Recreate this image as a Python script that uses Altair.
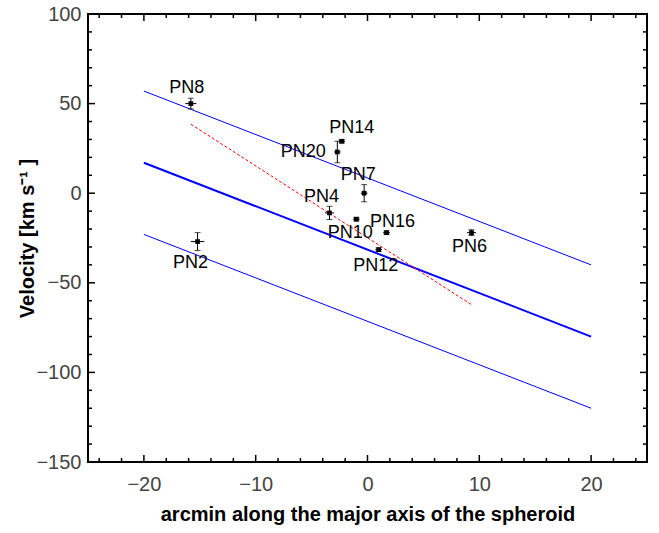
import altair as alt
import pandas as pd

# ---- data ----
names = ["PN8", "PN2", "PN20", "PN14", "PN7", "PN4", "PN10", "PN16", "PN12", "PN6"]
pos_x = [-15.8, -15.2, -2.7, -2.3, -0.3, -3.4, -1.0, 1.7, 1.0, 9.3]
vel = [50, -27, 23, 29, 0, -11, -14.5, -22, -31.5, -22]
vel_err = [3, 5, 6, 1, 4.8, 3.7, 1, 1, 1, 1.6]
pos_err = [0.5, 0.6, 0.3, 0.3, 0.3, 0.4, 0.3, 0.3, 0.3, 0.4]

band_x = [-20, 20]
band_upper = [57, -40]
band_mid = [17, -80]
band_lower = [-23, -120]

fit_x = [-15.8, 9.25]
fit_y = [38.5, -62]

x_major = [-20, -10, 0, 10, 20]
x_minor = [-24, -22, -18, -16, -14, -12, -8, -6, -4, -2, 2, 4, 6, 8, 12, 14, 16, 18, 22, 24]
y_major = [-150, -100, -50, 0, 50, 100]
y_minor = [-140, -130, -120, -110, -90, -80, -70, -60, -40, -30, -20, -10,
           10, 20, 30, 40, 60, 70, 80, 90]

# label offsets in pixels (layout only)
label_offsets = {
    "PN8": (-4, -16), "PN2": (-7, 21), "PN20": (-34, 0), "PN14": (10, -13),
    "PN7": (-6, -18), "PN4": (-8, -16), "PN10": (-6, 14), "PN16": (6, -11),
    "PN12": (-3, 16), "PN6": (-2, 14),
}

W, H = 559, 448
FONT = "Liberation Sans"

pts = pd.DataFrame({"name": names, "x": pos_x, "y": vel, "ye": vel_err, "xe": pos_err})
pts["ylo"] = pts["y"] - pts["ye"]
pts["yhi"] = pts["y"] + pts["ye"]
pts["xlo"] = pts["x"] - pts["xe"]
pts["xhi"] = pts["x"] + pts["xe"]

xscale = alt.Scale(domain=[-25, 25], nice=False, zero=False)
yscale = alt.Scale(domain=[-150, 100], nice=False, zero=False)
XT = "arcmin along the major axis of the spheroid"
YT = "Velocity [km s\u207b\u00b9 ]"
xaxis = alt.Axis(values=x_major, title=XT, domain=False, ticks=False, grid=False,
                 labelFontSize=20, labelColor="#444", labelFont=FONT, labelPadding=12,
                 titleFontSize=20, titleFont=FONT, titleFontWeight="bold", titleColor="black",
                 titlePadding=10)
yaxis = alt.Axis(values=y_major, title=YT, domain=False, ticks=False, grid=False,
                 labelFontSize=20, labelColor="#444", labelFont=FONT, labelPadding=7,
                 titleFontSize=20, titleFont=FONT, titleFontWeight="bold", titleColor="black",
                 titlePadding=-2)


def X(f):
    return alt.X(f, type="quantitative", scale=xscale, axis=xaxis)


def Y(f):
    return alt.Y(f, type="quantitative", scale=yscale, axis=yaxis)


bands = pd.DataFrame({
    "x": band_x * 3,
    "y": band_upper + band_mid + band_lower,
    "line": ["upper"] * 2 + ["mid"] * 2 + ["lower"] * 2,
})
outer = alt.Chart(bands).transform_filter("datum.line != 'mid'").mark_line(
    color="#0000ff", strokeWidth=1).encode(x=X("x"), y=Y("y"), detail="line:N")
mid = alt.Chart(bands).transform_filter("datum.line == 'mid'").mark_line(
    color="#0000ff", strokeWidth=2).encode(x=X("x"), y=Y("y"))

fit = alt.Chart(pd.DataFrame({"x": fit_x, "y": fit_y})).mark_line(
    color="#ff0000", strokeWidth=1, strokeDash=[3, 2]).encode(x=X("x"), y=Y("y"))

base = alt.Chart(pts)
vbars = base.mark_rule(color="black", strokeWidth=1).encode(x=X("x"), y=Y("ylo"), y2="yhi")
caps_lo = base.mark_tick(color="black", orient="horizontal", size=6, thickness=1).encode(x=X("x"), y=Y("ylo"))
caps_hi = base.mark_tick(color="black", orient="horizontal", size=6, thickness=1).encode(x=X("x"), y=Y("yhi"))
hbars = base.mark_rule(color="black", strokeWidth=1).encode(x=X("xlo"), x2="xhi", y=Y("y"))
marks = base.mark_square(color="black", size=22, opacity=1).encode(x=X("x"), y=Y("y"))

labels = []
for n in names:
    dx, dy = label_offsets[n]
    labels.append(
        base.transform_filter(alt.datum.name == n).mark_text(
            font=FONT, fontSize=18, color="black", dx=dx, dy=dy,
            align="center", baseline="middle").encode(x=X("x"), y=Y("y"), text="name:N"))

# frame ticks (inward)
txM = pd.DataFrame({"t": x_major})
txm = pd.DataFrame({"t": x_minor})
tyM = pd.DataFrame({"t": y_major})
tym = pd.DataFrame({"t": y_minor})
tick_layers = []
for df, L in [(txM, 7), (txm, 4)]:
    tick_layers.append(alt.Chart(df).mark_rule(color="black", strokeWidth=1.5).encode(
        x=X("t"), y=alt.value(H), y2=alt.value(H - L)))
    tick_layers.append(alt.Chart(df).mark_rule(color="black", strokeWidth=1.5).encode(
        x=X("t"), y=alt.value(0), y2=alt.value(L)))
for df, L in [(tyM, 7), (tym, 4)]:
    tick_layers.append(alt.Chart(df).mark_rule(color="black", strokeWidth=1.5).encode(
        y=Y("t"), x=alt.value(0), x2=alt.value(L)))
    tick_layers.append(alt.Chart(df).mark_rule(color="black", strokeWidth=1.5).encode(
        y=Y("t"), x=alt.value(W), x2=alt.value(W - L)))

chart = alt.layer(outer, mid, fit, vbars, caps_lo, caps_hi, hbars, marks, *labels, *tick_layers).properties(
    width=W, height=H,
    background="white",
    autosize=alt.AutoSizeParams(type="none"),
    padding={"left": 88, "top": 14, "right": 12, "bottom": 71},
).configure_view(stroke="black", strokeWidth=2)

chart.save("out.html", embed_options={"renderer": "svg", "actions": False})
